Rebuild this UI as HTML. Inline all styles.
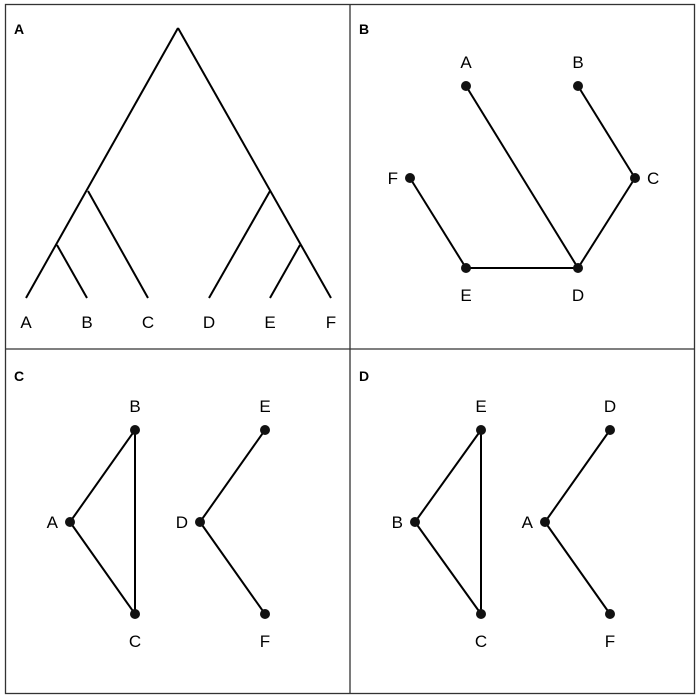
<!DOCTYPE html>
<html><head><meta charset="utf-8"><style>
html,body{margin:0;padding:0;background:#fff;}
svg{display:block;font-family:"Liberation Sans",Arial,sans-serif;}
</style></head><body>
<svg id="fig" width="700" height="700" viewBox="0 0 700 700">
<g stroke="#333" stroke-width="1.3" fill="none">
<rect x="5.5" y="4.5" width="689" height="689"/>
<line x1="350" y1="4.5" x2="350" y2="693.5"/>
<line x1="5.5" y1="349" x2="694.5" y2="349"/>
</g>
<g font-weight="bold" font-size="14">
<text x="14" y="34">A</text>
<text x="359" y="34">B</text>
<text x="14" y="381">C</text>
<text x="359" y="381">D</text>
</g>
<g id="tree"></g>
<g id="graphs"></g>
</svg>
<script>
const NS='http://www.w3.org/2000/svg';
const treeLeaves=['A','B','C','D','E','F'];
const treeLeafX=[26,87,148,209,270,331];
const treeEdges=[[[178,28],[26,298]],[[178,28],[331,298]],[[88,191],[148,298]],[[57,245],[87,298]],[[270,191],[209,298]],[[300,245],[270,298]]];
const tree=document.getElementById('tree');
function mk(tag,attrs,parent){const e=document.createElementNS(NS,tag);for(const k in attrs)e.setAttribute(k,attrs[k]);parent.appendChild(e);return e;}
treeEdges.forEach(function(ed){
 const l=mk('line',{x1:ed[0][0],y1:ed[0][1],x2:ed[1][0],y2:ed[1][1],stroke:'#000','stroke-width':2},tree);
 
 
});
treeLeaves.forEach(function(n,i){
 const t=mk('text',{x:treeLeafX[i],y:328,'font-size':17,'text-anchor':'middle'},tree);
 t.textContent=n;
 
 
});
const panelB={nodes:[['A',466,86,'t'],['B',578,86,'t'],['C',635,178,'r'],['D',578,268,'b'],['E',466,268,'b'],['F',410,178,'l']],edges:[['A','D'],['B','C'],['C','D'],['D','E'],['E','F']]};
const panelC={nodes:[['B',135,430,'t'],['A',70,522,'l'],['C',135,614,'b'],['E',265,430,'t'],['D',200,522,'l'],['F',265,614,'b']],edges:[['A','B'],['A','C'],['B','C'],['D','E'],['D','F']]};
const panelD={nodes:[['E',481,430,'t'],['B',415,522,'l'],['C',481,614,'b'],['D',610,430,'t'],['A',545,522,'l'],['F',610,614,'b']],edges:[['B','E'],['B','C'],['E','C'],['A','D'],['A','F']]};
const gr=document.getElementById('graphs');
[['b',panelB],['c',panelC],['d',panelD]].forEach(function(pp){
 const p=pp[1];const pos={};p.nodes.forEach(function(n){pos[n[0]]=n;});
 p.edges.forEach(function(e){const a=pos[e[0]],b=pos[e[1]];
  const l=mk('line',{x1:a[1],y1:a[2],x2:b[1],y2:b[2],stroke:'#000','stroke-width':2},gr);
  
  
 });
 p.nodes.forEach(function(n){
  const c=mk('circle',{cx:n[1],cy:n[2],r:5,fill:'#111'},gr);
  
  
  let x=n[1],y=n[2]+6,anc='middle';
  if(n[3]==='t'){y=n[2]-18;}else if(n[3]==='b'){y=n[2]+33;}else if(n[3]==='l'){x=n[1]-12;anc='end';}else{x=n[1]+12;anc='start';}
  const t=mk('text',{x:x,y:y,'font-size':17,'text-anchor':anc},gr);
  t.textContent=n[0];
  
  
 });
});
</script>
</body></html>
